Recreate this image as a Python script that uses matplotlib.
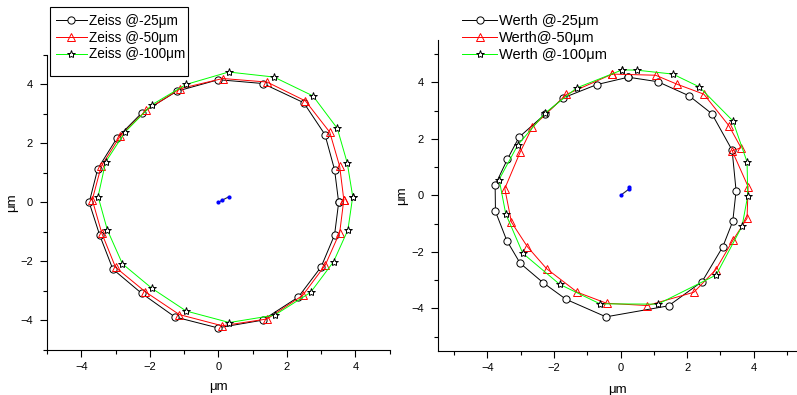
## two panels: measured contour points (Zeiss vs Werth) at three depths, plus fitted centre drift

import numpy as np
from matplotlib import pyplot as plt
from matplotlib.patches import Rectangle

plt.rcParams['font.family'] = ['Liberation Sans', 'DejaVu Sans']

# Zeiss, left panel
zeiss25_x = [3.51, 3.39, 3.11, 2.49, 1.30, 0.00, -1.21, -2.23, -2.96, -3.52, -3.77, -3.46, -3.08, -2.24, -1.27, -0.02, 1.29, 2.33, 3.00, 3.39]
zeiss25_y = [0.00, 1.11, 2.30, 3.38, 4.03, 4.16, 3.77, 3.04, 2.18, 1.14, 0.00, -1.12, -2.26, -3.08, -3.88, -4.25, -3.99, -3.21, -2.18, -1.10]
zeiss50_x = [3.66, 3.54, 3.25, 2.54, 1.42, 0.13, -1.11, -2.11, -2.87, -3.42, -3.68, -3.40, -3.00, -2.13, -1.14, 0.11, 1.42, 2.46, 3.12, 3.54]
zeiss50_y = [0.09, 1.22, 2.38, 3.44, 4.08, 4.20, 3.86, 3.12, 2.24, 1.22, 0.09, -1.05, -2.20, -3.03, -3.80, -4.18, -3.95, -3.15, -2.12, -1.02]
zeiss100_x = [3.92, 3.76, 3.47, 2.76, 1.62, 0.30, -0.94, -1.94, -2.72, -3.29, -3.51, -3.24, -2.80, -1.94, -0.94, 0.32, 1.64, 2.69, 3.36, 3.78]
zeiss100_y = [0.20, 1.34, 2.51, 3.61, 4.25, 4.42, 4.00, 3.31, 2.39, 1.37, 0.20, -0.93, -2.08, -2.91, -3.68, -4.07, -3.82, -3.05, -2.01, -0.93]
zeiss_cx = [0.0, 0.10, 0.32]
zeiss_cy = [0.0, 0.07, 0.20]

# Werth, right panel
werth25_x = [0.23, 1.12, 2.06, 2.74, 3.35, 3.47, 3.37, 3.07, 2.45, 1.44, -0.44, -1.64, -2.32, -3.02, -3.42, -3.76, -3.77, -3.40, -3.05, -2.27, -1.72, -0.71]
werth25_y = [4.18, 4.02, 3.52, 2.89, 1.60, 0.16, -0.92, -1.82, -3.05, -3.91, -4.30, -3.68, -3.10, -2.40, -1.60, -0.57, 0.36, 1.28, 2.06, 2.87, 3.45, 3.92]
werth50_x = [-0.25, 1.05, 1.70, 2.50, 3.25, 3.62, 3.35, 3.83, 3.80, 3.38, 2.86, 2.20, 0.80, -0.42, -1.30, -2.22, -2.80, -3.28, -3.48, -3.02, -2.65, -1.63]
werth50_y = [4.29, 4.25, 3.93, 3.58, 2.47, 1.68, 1.58, 0.31, -0.81, -1.58, -2.63, -3.43, -3.90, -3.82, -3.43, -2.60, -1.82, -0.95, 0.24, 1.52, 2.42, 3.57]
werth100_x = [0.05, 0.48, 1.57, 2.36, 3.37, 3.80, 3.82, 3.65, 2.87, 1.12, -0.62, -1.83, -2.94, -3.45, -3.65, -3.09, -2.28, -1.32]
werth100_y = [4.44, 4.43, 4.29, 3.84, 2.64, 1.18, -0.01, -1.09, -2.82, -3.85, -3.84, -3.15, -2.05, -0.66, 0.56, 1.78, 2.90, 3.80]
werth_cx = [0.0, 0.25, 0.26]
werth_cy = [0.0, 0.22, 0.28]

GREEN = '#00ff00'


def closed(a):
	return np.append(a, a[0])


def style_axes(ax, xlim, ylim):
	ax.spines['top'].set_visible(False)
	ax.spines['right'].set_visible(False)
	ax.set_xlim(xlim)
	ax.set_ylim(ylim)
	ax.set_xticks([-4, -2, 0, 2, 4])
	ax.set_yticks([-4, -2, 0, 2, 4])
	ax.set_xticks([-5, -3, -1, 1, 3, 5], minor=True)
	ax.set_yticks([-5, -3, -1, 1, 3, 5], minor=True)
	ax.tick_params(which='major', length=5, width=0.8, labelsize=8)
	ax.tick_params(axis='y', which='major', pad=5)
	ax.tick_params(axis='x', which='major', pad=4)
	ax.tick_params(which='minor', length=3, width=0.8)
	ax.set_xlabel('μm', fontsize=9.5)
	ax.set_ylabel('μm', fontsize=9.5)


def draw_series(ax, xs, ys, labels):
	ax.plot(closed(xs[0]), closed(ys[0]), color='black', lw=0.7, marker='o', ms=5.2, mfc='white', mec='black', mew=0.7, label=labels[0])
	ax.plot(closed(xs[1]), closed(ys[1]), color='red', lw=0.7, marker='^', ms=6.3, mfc='none', mec='red', mew=0.7, label=labels[1])
	ax.plot(closed(xs[2]), closed(ys[2]), color=GREEN, lw=0.7, marker='*', ms=6, mfc='white', mec='black', mew=0.7, label=labels[2])


fig = plt.figure(figsize=(7.97, 3.95), dpi=100)

ax1 = fig.add_axes([0.059, 0.114, 0.430, 0.747])
draw_series(ax1, [zeiss25_x, zeiss50_x, zeiss100_x], [zeiss25_y, zeiss50_y, zeiss100_y],
	['Zeiss @-25μm', 'Zeiss @-50μm', 'Zeiss @-100μm'])
ax1.plot(zeiss_cx, zeiss_cy, color='#202040', lw=0.8, marker='o', ms=2, mfc='blue', mec='blue')
style_axes(ax1, (-5, 5), (-5, 5))
ax1.yaxis.set_label_coords(-0.085, 0.5)
ax1.xaxis.set_label_coords(0.5, -0.106)
ax1.legend(loc='upper left', bbox_to_anchor=(56 / 797, 1 - 14 / 395), bbox_transform=fig.transFigure,
	fontsize=9.8, frameon=False, handlelength=2.25, handletextpad=0.2,
	borderpad=0, labelspacing=0.2, borderaxespad=0)
# Origin-style legend box
fig.patches.append(Rectangle((50 / 797, 1 - 76 / 395), 138 / 797, 69 / 395, transform=fig.transFigure,
	fill=False, edgecolor='black', lw=0.8))

ax2 = fig.add_axes([0.549, 0.112, 0.451, 0.787])
draw_series(ax2, [werth25_x, werth50_x, werth100_x], [werth25_y, werth50_y, werth100_y],
	['Werth @-25μm', 'Werth@-50μm', 'Werth @-100μm'])
ax2.plot(werth_cx, werth_cy, color='#202040', lw=0.8, marker='o', ms=2, mfc='blue', mec='blue')
style_axes(ax2, (-5.5, 5.3), (-5.5, 5.5))
ax2.yaxis.set_label_coords(-0.083, 0.5)
ax2.xaxis.set_label_coords(0.5, -0.107)
ax2.legend(loc='upper left', bbox_to_anchor=(462 / 797, 1 - 14 / 395), bbox_transform=fig.transFigure,
	fontsize=10.5, frameon=False, handlelength=2.4, handletextpad=0.15,
	borderpad=0, labelspacing=0.2, borderaxespad=0)

plt.savefig('out.png', dpi=100)
